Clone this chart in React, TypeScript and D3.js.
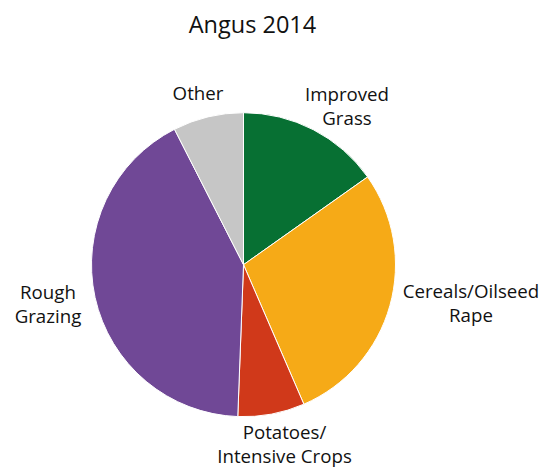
import React from "react";
import * as d3 from "d3";

const categories = ["Improved Grass", "Cereals/Oilseed Rape", "Potatoes/Intensive Crops", "Rough Grazing", "Other"];
const values = [15.2, 28.3, 7.1, 41.9, 7.5];
const colors = ["#077033", "#F6AA17", "#D0391A", "#704896", "#C6C6C6"];
const labelLines = [["Improved", "Grass"], ["Cereals/Oilseed", "Rape"], ["Potatoes/", "Intensive Crops"], ["Rough", "Grazing"], ["Other"]];
const labelPos: [number, number][] = [[347, 101], [471, 298], [284.5, 439], [48, 299], [198, 100]];

const W = 542, H = 467;
const cx = 243.5, cy = 264.7, R = 152;

export default function App() {
  const pie = d3.pie<number>().sort(null).value((d) => d)(values);
  const arc = d3.arc<d3.PieArcDatum<number>>().innerRadius(0).outerRadius(R);
  const font = "'Open Sans', sans-serif";
  return (
    <svg width={W} height={H} style={{ position: "absolute", left: 0, top: 0, background: "#fff" }}>
      <text x={252.5} y={33} textAnchor="middle" fontFamily={font} fontSize={23.5} fill="#111">Angus 2014</text>
      <g transform={`translate(${cx},${cy})`}>
        {pie.map((p, i) => (
          <path key={categories[i]} d={arc(p) || ""} fill={colors[i]} stroke="#fff" strokeWidth={1} />
        ))}
      </g>
      {labelLines.map((lines, i) => (
        <text key={i} x={labelPos[i][0]} y={labelPos[i][1]} textAnchor="middle" fontFamily={font} fontSize={18.7} fill="#111">
          {lines.map((l, j) => (
            <tspan key={j} x={labelPos[i][0]} dy={j === 0 ? 0 : 24}>{l}</tspan>
          ))}
        </text>
      ))}
    </svg>
  );
}
